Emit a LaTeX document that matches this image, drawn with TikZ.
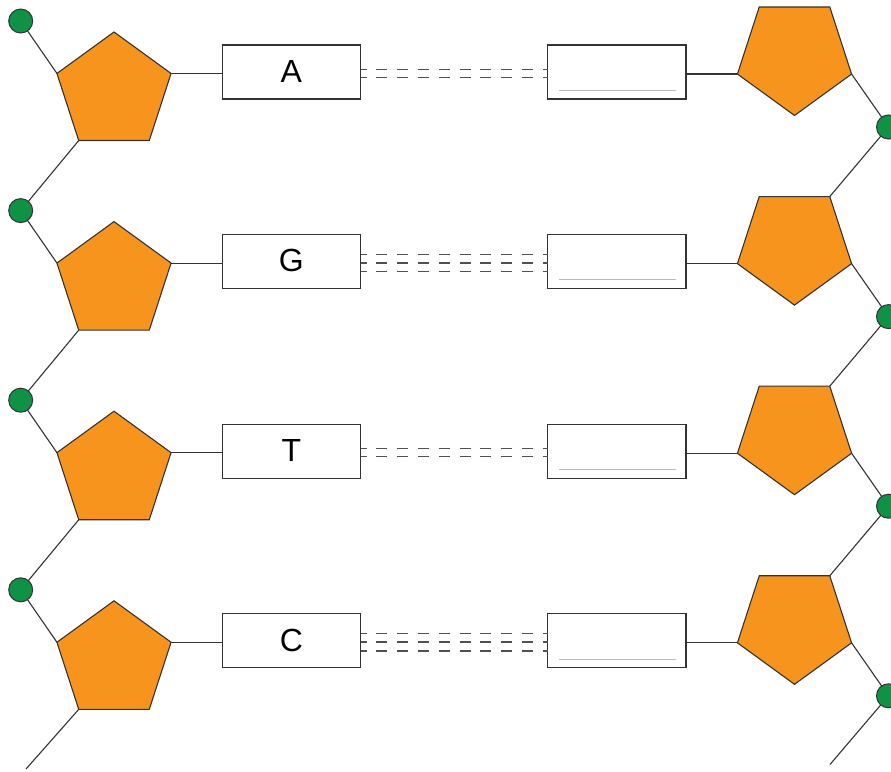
\documentclass[tikz,border=0pt]{standalone}
\usepackage{fontspec}
\setmainfont{Liberation Sans}
\usetikzlibrary{shapes.geometric}
\definecolor{sugar}{HTML}{F7941D}
\definecolor{phos}{HTML}{0F9146}
\definecolor{ink}{HTML}{333333}
\definecolor{bond}{HTML}{505050}
\definecolor{blank}{HTML}{BBBBBB}
\pgfdeclarelayer{bg}
\pgfsetlayers{bg,main}
\tikzset{
 sugarL/.style={regular polygon, regular polygon sides=5, minimum size=120pt, inner sep=0pt, outer sep=0pt, fill=sugar, draw=ink, line width=1.1pt},
 sugarR/.style={sugarL, shape border rotate=180},
 phosphate/.style={circle, minimum size=24pt, inner sep=0pt, outer sep=0pt, fill=phos, draw=ink, line width=1pt},
 basebox/.style={rectangle, minimum width=138.5pt, minimum height=54pt, inner sep=0pt, outer sep=0pt, draw=ink, line width=1.2pt, fill=white, font=\fontsize{32}{32}\selectfont},
 backbone/.style={draw=ink, line width=1.1pt},
 hbond/.style={draw=bond, line width=1.4pt, dash pattern=on 11pt off 9.8pt, dash phase=5pt},
 blankline/.style={draw=blank, line width=1pt}
}
\begin{document}
\begin{tikzpicture}[x=1pt,y=-1pt]
\useasboundingbox (0,0) rectangle (891,771);
\foreach \L/\n [count=\i from 0] in {A/2,G/3,T/2,C/3} {
  \pgfmathsetmacro\dy{189.6*\i}
  \node[phosphate] (cL\i) at (20.7, 21+\dy) {};
  \node[sugarL] (pL\i) at (114, 92+\dy) {};
  \node[basebox] (bL\i) at (291.4, 71.9+\dy) {\raisebox{1.5pt}{\L}};
  \node[basebox] (bR\i) at (616.8, 71.9+\dy) {};
  \node[sugarR] (pR\i) at (794.5, 55.5+\dy) {};
  \node[phosphate] (cR\i) at (888.5, 127+\dy) {};
  \draw[blankline] ([shift={(11.2,-8.7)}]bR\i.south west) -- ([shift={(-10.3,-8.7)}]bR\i.south east);
  \ifnum\n=2
    \draw[hbond] (bL\i.east |- 0,69.3+\dy) -- (bR\i.west |- 0,69.3+\dy);
    \draw[hbond] (bL\i.east |- 0,77.3+\dy) -- (bR\i.west |- 0,77.3+\dy);
  \else
    \draw[hbond] (bL\i.east |- 0,64.7+\dy) -- (bR\i.west |- 0,64.7+\dy);
    \draw[hbond] (bL\i.east |- 0,73.3+\dy) -- (bR\i.west |- 0,73.3+\dy);
    \draw[hbond] (bL\i.east |- 0,82+\dy) -- (bR\i.west |- 0,82+\dy);
  \fi
}
\coordinate (endL) at (26,769);
\coordinate (endR) at (830,764.5);
\begin{pgfonlayer}{bg}
\foreach \i in {0,1,2,3} {
  \draw[backbone] (cL\i.center) -- (pL\i.corner 2);
  \draw[backbone] (pL\i.corner 5) -- (pL\i.corner 5 -| bL\i.west);
  \draw[backbone] (bR\i.east |- pR\i.corner 5) -- (pR\i.corner 5);
  \draw[backbone] (pR\i.corner 2) -- (cR\i.center);
}
\foreach \i/\j in {0/1,1/2,2/3} {
  \draw[backbone] (pL\i.corner 3) -- (cL\j.center);
  \draw[backbone] (cR\i.center) -- (pR\j.corner 3);
}
\draw[backbone] (pL3.corner 3) -- (endL);
\draw[backbone] (cR3.center) -- (endR);
\end{pgfonlayer}
\end{tikzpicture}
\end{document}
